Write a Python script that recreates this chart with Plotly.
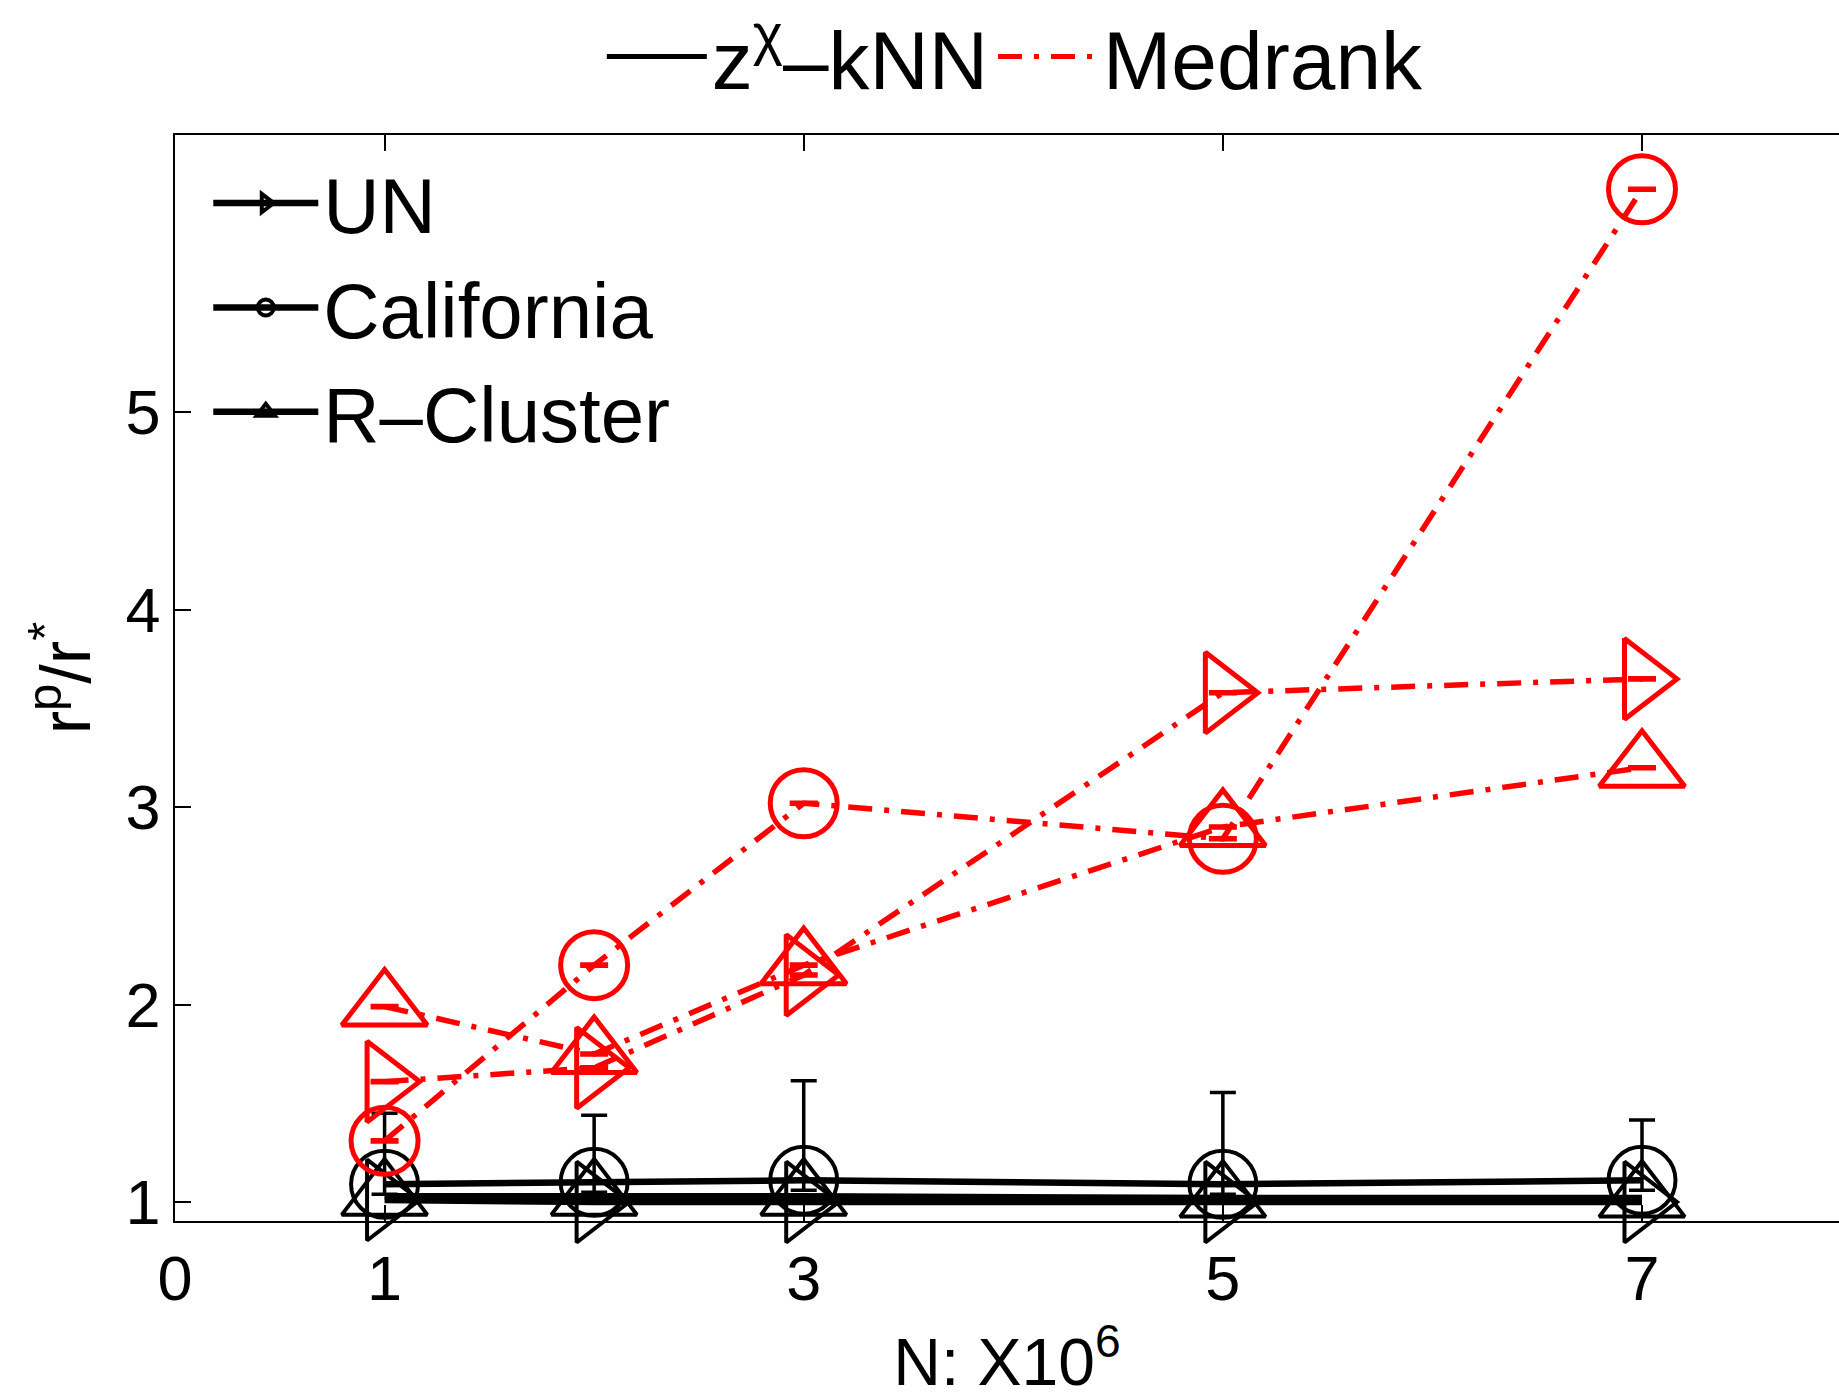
import plotly.graph_objects as go

# ---------------- data ----------------
n_values = [1, 2, 3, 5, 7]                 # N (x 10^6)
x_tick_vals = [0, 1, 3, 5, 7]
x_tick_text = ["0", "1", "3", "5", "7"]
y_tick_vals = [1, 2, 3, 4, 5]
y_tick_text = ["1", "2", "3", "4", "5"]

dataset_names = ["UN", "California", "R–Cluster"]
method_names = ["z<sup>χ</sup>–kNN", "Medrank"]

# z^chi-kNN  (black, solid)
zknn_un = [1.01, 1.00, 1.00, 1.00, 1.00]
zknn_california = [1.09, 1.10, 1.11, 1.09, 1.11]
zknn_rcluster = [1.03, 1.03, 1.03, 1.02, 1.02]
zknn_california_err_up = [0.36, 0.34, 0.505, 0.465, 0.305]
zknn_california_err_down = [0.05, 0.05, 0.05, 0.05, 0.05]

# Medrank (red, dash-dot)
medrank_un = [1.61, 1.68, 2.15, 3.58, 3.65]
medrank_california = [1.31, 2.20, 3.02, 2.84, 6.13]
medrank_rcluster = [1.99, 1.75, 2.20, 2.90, 3.20]
medrank_err = [0.004, 0.004, 0.004, 0.004, 0.004]

# ---------------- styles ----------------
FONT = "Liberation Sans"
RED = "#ff0000"
BLACK = "#000000"
RED_DASH = "24px,12px,5px,12px"
symbols_open = {"UN": "triangle-right-open",
                "California": "circle-open",
                "R–Cluster": "triangle-up-open"}
sizes = {"UN": 70, "California": 67, "R–Cluster": 74}

fig = go.Figure()

# legend-only entries for the method line styles (top legend)
fig.add_trace(go.Scatter(x=[None], y=[None], mode="lines", name=method_names[0],
                         line=dict(color=BLACK, width=5), legend="legend"))
fig.add_trace(go.Scatter(x=[None], y=[None], mode="lines", name=method_names[1],
                         line=dict(color=RED, width=5, dash=RED_DASH), legend="legend"))

# black z^chi-kNN series
zknn_series = {"UN": zknn_un, "California": zknn_california, "R–Cluster": zknn_rcluster}
for name in dataset_names:
    err = None
    if name == "California":
        err = dict(type="data", symmetric=False, array=zknn_california_err_up,
                   arrayminus=zknn_california_err_down, color=BLACK, thickness=3.5, width=13)
    fig.add_trace(go.Scatter(
        x=n_values, y=zknn_series[name], mode="lines+markers", name=name,
        line=dict(color=BLACK, width=6.5),
        marker=dict(symbol=symbols_open[name], size=sizes[name], color=BLACK,
                    line=dict(color=BLACK, width=4)),
        error_y=err, cliponaxis=False, legend="legend2", showlegend=True))

# red Medrank series
medrank_series = {"UN": medrank_un, "California": medrank_california, "R–Cluster": medrank_rcluster}
for name in dataset_names:
    fig.add_trace(go.Scatter(
        x=n_values, y=medrank_series[name], mode="lines+markers", name=name,
        line=dict(color=RED, width=5.5, dash=RED_DASH),
        marker=dict(symbol=symbols_open[name], size=sizes[name], color=RED,
                    line=dict(color=RED, width=5)),
        error_y=dict(type="data", array=medrank_err, color=RED, thickness=4, width=14),
        cliponaxis=False, showlegend=False))

fig.update_layout(
    width=1839, height=1399,
    margin=dict(l=175, r=0, t=135, b=178, autoexpand=False),
    paper_bgcolor="white", plot_bgcolor="white",
    font=dict(family=FONT, size=62, color=BLACK),
    hovermode=False,
    xaxis=dict(range=[0, 7.94], tickmode="array", tickvals=x_tick_vals, ticktext=x_tick_text,
               ticks="inside", ticklen=16, tickwidth=1.5, tickcolor=BLACK,
               showline=True, linewidth=1.5, linecolor=BLACK, mirror="ticks",
               showgrid=False, zeroline=False, tickfont=dict(size=63),
               ticklabelstandoff=2,
               title=dict(text="N: X10<sup>6</sup>", font=dict(size=66), standoff=36)),
    yaxis=dict(range=[0.904, 6.405], tickmode="array", tickvals=y_tick_vals, ticktext=y_tick_text,
               ticks="inside", ticklen=16, tickwidth=1.5, tickcolor=BLACK,
               showline=True, linewidth=1.5, linecolor=BLACK, mirror=False,
               showgrid=False, zeroline=False, tickfont=dict(size=63),
               ticklabelstandoff=0,
               title=dict(text="r<sup>p</sup>/r<sup>*</sup>", font=dict(size=70), standoff=12)),
    legend=dict(orientation="h", x=0.505, xanchor="center", y=1.072, yanchor="middle",
                font=dict(size=82), itemwidth=100, bgcolor="rgba(0,0,0,0)",
                borderwidth=0, tracegroupgap=0),
    legend2=dict(orientation="v", x=0.02, xanchor="left", y=0.99, yanchor="top",
                 font=dict(size=78), itemwidth=105, bgcolor="rgba(0,0,0,0)",
                 borderwidth=0, tracegroupgap=0),
)

fig.write_html("out.html")
